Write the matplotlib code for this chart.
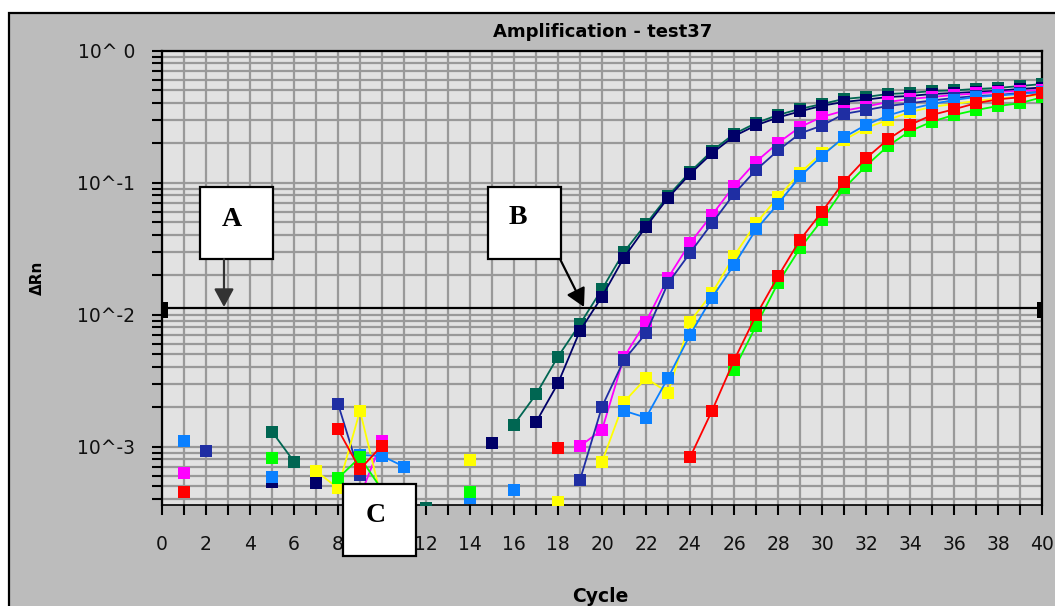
import numpy as np
import matplotlib
matplotlib.use("Agg")
import matplotlib.pyplot as plt
from matplotlib.patches import Rectangle, FancyArrowPatch
from matplotlib.ticker import LogLocator, MultipleLocator, NullFormatter

nan = np.nan

# cycle numbers 1..40 and delta Rn for each well (nan = nothing plotted)
cycles = np.arange(1, 41)

teal = [nan, nan, nan, nan, 1.30e-3, 7.70e-4, nan, nan, nan, nan,
        nan, 3.43e-4, nan, nan, nan, 1.47e-3, 2.49e-3, 4.81e-3, 8.50e-3, 0.0156,
        0.0299, 0.0487, 0.0793, 0.1205, 0.174, 0.234, 0.283, 0.326, 0.362, 0.395,
        0.431, 0.446, 0.470, 0.478, 0.495, 0.500, 0.513, 0.522, 0.540, 0.559]

navy = [nan, nan, nan, nan, 5.40e-4, nan, 5.33e-4, nan, nan, nan,
        nan, nan, nan, nan, 1.06e-3, nan, 1.53e-3, 3.02e-3, 7.56e-3, 0.0137,
        0.0271, 0.0464, 0.0766, 0.1164, 0.167, 0.225, 0.272, 0.312, 0.347, 0.383,
        0.409, 0.426, 0.446, 0.454, 0.470, 0.478, 0.487, 0.497, 0.513, 0.526]

dark_blue = [nan, 9.33e-4, nan, nan, nan, nan, nan, 2.11e-3, 6.10e-4, nan,
             nan, nan, nan, nan, nan, nan, nan, nan, 5.59e-4, 2.01e-3,
             4.54e-3, 7.23e-3, 0.0173, 0.0293, 0.0493, 0.0821, 0.1248, 0.1754, 0.236, 0.271,
             0.332, 0.355, 0.381, 0.400, 0.420, 0.438, 0.454, 0.462, 0.478, 0.487]

magenta = [6.29e-4, nan, nan, nan, nan, nan, nan, nan, 4.2e-4, 1.105e-3,
           nan, nan, nan, nan, nan, nan, nan, nan, 1.01e-3, 1.34e-3,
           4.78e-3, 8.85e-3, 0.0190, 0.0349, 0.0569, 0.0944, 0.1442, 0.200, 0.264, 0.315,
           0.351, 0.377, 0.409, 0.431, 0.446, 0.462, 0.474, 0.487, 0.495, 0.504]

yellow = [nan, nan, nan, nan, nan, nan, 6.54e-4, 4.84e-4, 1.87e-3, 3.88e-4,
          nan, nan, nan, 7.93e-4, nan, nan, nan, 3.83e-4, nan, 7.66e-4,
          2.18e-3, 3.30e-3, 2.57e-3, 8.85e-3, 0.0146, 0.0278, 0.0493, 0.0775, 0.1185, 0.168,
          0.211, 0.260, 0.299, 0.343, 0.375, 0.395, 0.416, 0.434, 0.446, 0.462]

light_blue = [1.105e-3, nan, nan, nan, 5.92e-4, nan, nan, nan, 8.65e-4, 8.50e-4,
              7.06e-4, nan, nan, 4.09e-4, nan, 4.70e-4, nan, nan, nan, nan,
              1.87e-3, 1.66e-3, 3.32e-3, 7.02e-3, 0.01345, 0.0238, 0.0442, 0.069, 0.1114, 0.160,
              0.221, 0.274, 0.323, 0.362, 0.395, 0.423, 0.446, 0.458, 0.470, 0.487]

green = [nan, nan, nan, nan, 8.25e-4, nan, nan, 5.76e-4, 8.31e-4, 4.7e-4,
         nan, nan, nan, 4.56e-4, nan, nan, nan, nan, nan, nan,
         nan, nan, nan, nan, nan, 3.84e-3, 8.21e-3, 0.0174, 0.0318, 0.0522,
         0.0907, 0.1338, 0.190, 0.246, 0.290, 0.326, 0.355, 0.381, 0.400, 0.444]

red = [4.51e-4, nan, nan, nan, nan, nan, nan, 1.35e-3, 6.74e-4, 1.02e-3,
       nan, nan, nan, nan, nan, nan, nan, 9.72e-4, nan, nan,
       nan, nan, nan, 8.28e-4, 1.87e-3, 4.50e-3, 9.86e-3, 0.0195, 0.0368, 0.0603,
       0.1018, 0.153, 0.213, 0.274, 0.326, 0.360, 0.400, 0.428, 0.444, 0.476]

threshold = 0.0112
y_ticks = [1, 0.1, 0.01, 0.001]
y_tick_labels = ["10^ 0", "10^-1", "10^-2", "10^-3"]
x_ticks = list(range(0, 41, 2))

# drawing order: later ones sit on top
wells = [
    (teal, "#006652"),
    (navy, "#000068"),
    (magenta, "#ff00ff"),
    (dark_blue, "#1f2ea3"),
    (yellow, "#ffff00"),
    (light_blue, "#0a80ff"),
    (green, "#00ff00"),
    (red, "#ff0000"),
]

W, H = 1055, 606
fig = plt.figure(figsize=(W / 100, H / 100), dpi=100, facecolor="white")


def fpos(x, y):
    # pixel position (from top left) -> figure fraction
    return x / W, 1 - y / H


# grey window panel
top = 1 - 13 / H
fig.add_artist(Rectangle((9 / W, -0.2), 1.2, top + 0.2, transform=fig.transFigure,
                         facecolor="#bcbcbc", edgecolor="black", lw=1.6, zorder=-5))

ax = fig.add_axes([162 / W, 1 - 505 / H, 880 / W, (505 - 50.7) / H])
ax.set_facecolor("#e2e2e2")

for vals, col in wells:
    ax.plot(cycles, vals, color=col, lw=1.3, marker="s", markersize=8.4,
            markeredgewidth=0, zorder=3)

ax.axhline(threshold, color="black", lw=1.6, zorder=4)

ax.set_yscale("log")
ax.set_xlim(0, 40)
ax.set_ylim(10 ** -3.442, 1)

ax.set_xticks(x_ticks)
ax.set_xticklabels([str(t) for t in x_ticks])
ax.xaxis.set_minor_locator(MultipleLocator(1))
ax.set_yticks(y_ticks)
ax.set_yticklabels(y_tick_labels)
ax.yaxis.set_minor_locator(LogLocator(base=10, subs=np.arange(2, 10)))
ax.yaxis.set_minor_formatter(NullFormatter())

ax.grid(True, which="both", color="#999999", lw=1.6)
ax.set_axisbelow(True)

ax.tick_params(which="both", direction="out", length=7.5, width=1.5, color="black",
               top=False, right=False)
ax.tick_params(axis="x", which="both", labelsize=13.5, pad=14, labelcolor="#111111")
ax.tick_params(axis="y", which="both", labelsize=13.5, pad=12, labelcolor="#111111")

for side in ["left", "top", "right"]:
    ax.spines[side].set_linewidth(1.6)
    ax.spines[side].set_color("black")
ax.spines["bottom"].set_linewidth(1.2)
ax.spines["bottom"].set_color("black")

# titles
fig.text(*fpos(603, 32), "Amplification - test37", ha="center", va="center",
         fontsize=13, fontweight="bold")
fig.text(*fpos(600, 597), "Cycle", ha="center", va="center", fontsize=13.5,
         fontweight="bold")
fig.text(*fpos(37, 278), "ΔRn", ha="center", va="center", rotation=90,
         fontsize=11, fontweight="bold")

# threshold handles at both ends
for x0 in [162, 1036.5]:
    fig.add_artist(Rectangle(fpos(x0, 318.5), 5.5 / W, 17 / H, transform=fig.transFigure,
                             facecolor="black", edgecolor="none", zorder=5))

# labelled boxes with arrows
boxes = [("A", 200, 187, 232, 219), ("B", 488, 187, 518, 218), ("C", 343, 484, 376, 516)]
for letter, bx, by, tx, ty in boxes:
    fig.add_artist(Rectangle(fpos(bx, by + 72), 73 / W, 72 / H, transform=fig.transFigure,
                             facecolor="white", edgecolor="black", lw=1.6, zorder=6))
    fig.text(*fpos(tx, ty), letter, ha="center", va="center", fontsize=20,
             fontweight="bold", family="Liberation Serif", zorder=7)

fig.add_artist(FancyArrowPatch(fpos(224, 259), fpos(224, 307), transform=fig.transFigure,
                               arrowstyle="-|>,head_length=0.55,head_width=0.3",
                               mutation_scale=20, lw=1.6, color="#333333",
                               shrinkA=0, shrinkB=0, zorder=6))
fig.add_artist(FancyArrowPatch(fpos(560, 259), fpos(584, 307), transform=fig.transFigure,
                               arrowstyle="-|>,head_length=0.55,head_width=0.3",
                               mutation_scale=20, lw=1.6, color="black",
                               shrinkA=0, shrinkB=0, zorder=6))

fig.savefig("out.png", dpi=100, facecolor="white")
